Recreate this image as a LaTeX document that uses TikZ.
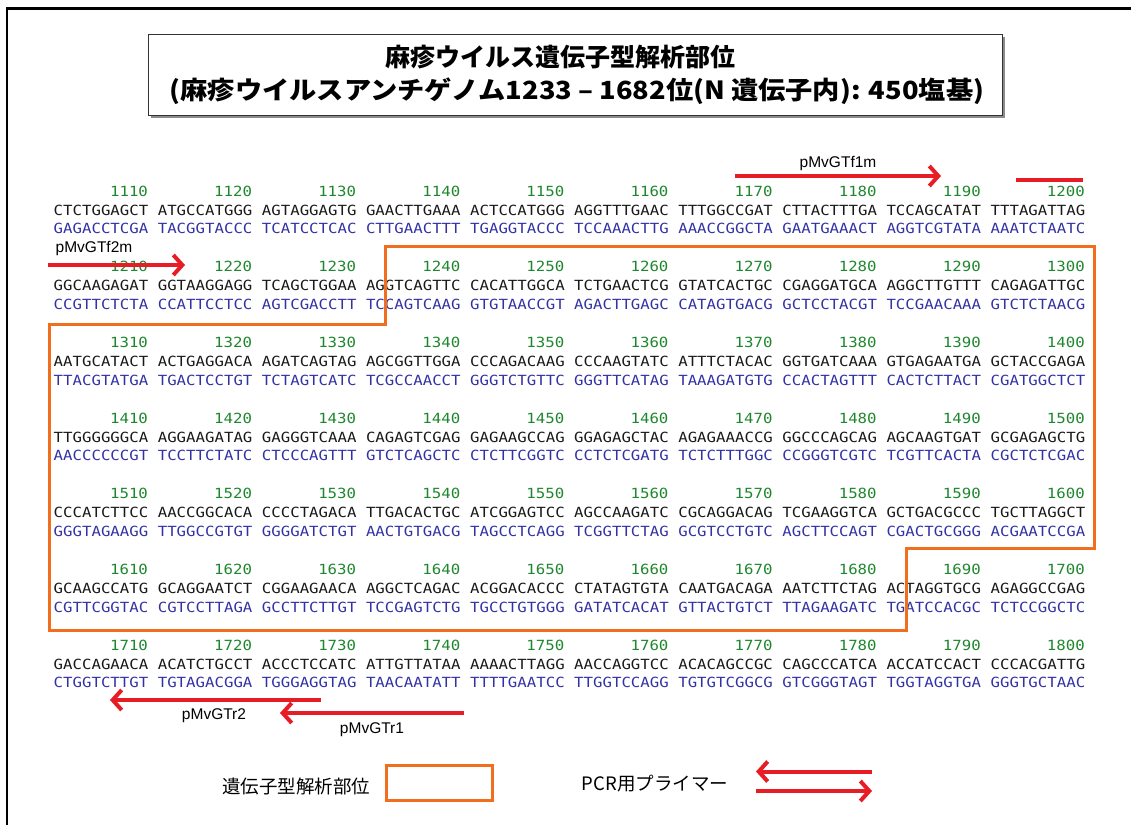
\documentclass[tikz,border=0pt]{standalone}
\usepackage{fontspec}
\usepackage{graphicx}
\usetikzlibrary{arrows.meta}
\newfontfamily\seqfont[FakeStretch=1.123]{DejaVu Sans Mono}
\newfontfamily\jpfont{Noto Sans CJK JP}
\newfontfamily\latfont{Liberation Sans}
\definecolor{seqgreen}{RGB}{30,135,45}
\definecolor{seqblue}{RGB}{50,50,165}
\definecolor{seqblack}{RGB}{25,25,25}
\definecolor{regorange}{RGB}{240,110,30}
\definecolor{primred}{RGB}{232,28,36}
\newcommand\seqrow[3]{%
  \foreach \s [count=\g] in {#2} {
    \pgfmathsetmacro\xx{53.5+(\g-1)*104.1}
    \pgfmathsetmacro\yy{215.1+(#1-1)*75.7}
    \pgfmathtruncatemacro\num{1100+100*(#1-1)+10*\g}
    \node[fwdtxt] (f#1-\g) at (\xx,\yy) {\s};
    \node[numtxt] (n#1-\g) at (\xx+94.64,\yy-19) {\num};
  }
  \foreach \s [count=\g] in {#3} {
    \pgfmathsetmacro\xx{53.5+(\g-1)*104.1}
    \pgfmathsetmacro\yy{215.1+(#1-1)*75.7}
    \node[revtxt] (r#1-\g) at (\xx,\yy+18.5) {\s};
  }
}
\begin{document}
\begin{tikzpicture}[x=1pt,y=-1pt,
  seqtxt/.style={inner sep=0pt, font=\seqfont\fontsize{14}{14}\selectfont},
  numtxt/.style={seqtxt, text=seqgreen, anchor=base east},
  fwdtxt/.style={seqtxt, text=seqblack, anchor=base west},
  revtxt/.style={seqtxt, text=seqblue, anchor=base west},
  primer/.style={draw=primred, line width=4pt, -{Straight Barb[length=9pt,width=20pt]}},
  primerbar/.style={draw=primred, line width=4pt},
  plabel/.style={inner sep=0pt, font=\latfont\fontsize{15.5}{16}\selectfont},
  titletxt/.style={inner sep=0pt, font=\jpfont\bfseries\fontsize{25}{28}\selectfont},
  legtxt/.style={inner sep=0pt, font=\jpfont\fontsize{18.5}{20}\selectfont},
  region/.style={draw=regorange, line width=3pt, line join=miter}]
\useasboundingbox (0,0) rectangle (1131,825);
% outer frame
\draw[line width=2.5pt] (7,825) -- (7,8.5) -- (1131,8.5);
% title box with shadow
\fill[black!45] (151,37) rectangle (1005,118);
\node[draw=black!80, fill=white, line width=0.8pt, minimum width=854pt, minimum height=81pt, inner sep=0pt] (tbox) at (575,74.5) {};
\node[titletxt] (t1) at (560,57) {麻疹ウイルス遺伝子型解析部位};
\node[titletxt] (t2) at (577,91) {\scalebox{1.09}[1]{(麻疹ウイルスアンチゲノム1233 – 1682位(N 遺伝子内): 450塩基)}};
% sequence rows
\seqrow{1}{CTCTGGAGCT,ATGCCATGGG,AGTAGGAGTG,GAACTTGAAA,ACTCCATGGG,AGGTTTGAAC,TTTGGCCGAT,CTTACTTTGA,TCCAGCATAT,TTTAGATTAG}{GAGACCTCGA,TACGGTACCC,TCATCCTCAC,CTTGAACTTT,TGAGGTACCC,TCCAAACTTG,AAACCGGCTA,GAATGAAACT,AGGTCGTATA,AAATCTAATC}
\seqrow{2}{GGCAAGAGAT,GGTAAGGAGG,TCAGCTGGAA,AGGTCAGTTC,CACATTGGCA,TCTGAACTCG,GTATCACTGC,CGAGGATGCA,AGGCTTGTTT,CAGAGATTGC}{CCGTTCTCTA,CCATTCCTCC,AGTCGACCTT,TCCAGTCAAG,GTGTAACCGT,AGACTTGAGC,CATAGTGACG,GCTCCTACGT,TCCGAACAAA,GTCTCTAACG}
\seqrow{3}{AATGCATACT,ACTGAGGACA,AGATCAGTAG,AGCGGTTGGA,CCCAGACAAG,CCCAAGTATC,ATTTCTACAC,GGTGATCAAA,GTGAGAATGA,GCTACCGAGA}{TTACGTATGA,TGACTCCTGT,TCTAGTCATC,TCGCCAACCT,GGGTCTGTTC,GGGTTCATAG,TAAAGATGTG,CCACTAGTTT,CACTCTTACT,CGATGGCTCT}
\seqrow{4}{TTGGGGGGCA,AGGAAGATAG,GAGGGTCAAA,CAGAGTCGAG,GAGAAGCCAG,GGAGAGCTAC,AGAGAAACCG,GGCCCAGCAG,AGCAAGTGAT,GCGAGAGCTG}{AACCCCCCGT,TCCTTCTATC,CTCCCAGTTT,GTCTCAGCTC,CTCTTCGGTC,CCTCTCGATG,TCTCTTTGGC,CCGGGTCGTC,TCGTTCACTA,CGCTCTCGAC}
\seqrow{5}{CCCATCTTCC,AACCGGCACA,CCCCTAGACA,TTGACACTGC,ATCGGAGTCC,AGCCAAGATC,CGCAGGACAG,TCGAAGGTCA,GCTGACGCCC,TGCTTAGGCT}{GGGTAGAAGG,TTGGCCGTGT,GGGGATCTGT,AACTGTGACG,TAGCCTCAGG,TCGGTTCTAG,GCGTCCTGTC,AGCTTCCAGT,CGACTGCGGG,ACGAATCCGA}
\seqrow{6}{GCAAGCCATG,GCAGGAATCT,CGGAAGAACA,AGGCTCAGAC,ACGGACACCC,CTATAGTGTA,CAATGACAGA,AATCTTCTAG,ACTAGGTGCG,AGAGGCCGAG}{CGTTCGGTAC,CGTCCTTAGA,GCCTTCTTGT,TCCGAGTCTG,TGCCTGTGGG,GATATCACAT,GTTACTGTCT,TTAGAAGATC,TGATCCACGC,TCTCCGGCTC}
\seqrow{7}{GACCAGAACA,ACATCTGCCT,ACCCTCCATC,ATTGTTATAA,AAAACTTAGG,AACCAGGTCC,ACACAGCCGC,CAGCCCATCA,ACCATCCACT,CCCACGATTG}{CTGGTCTTGT,TGTAGACGGA,TGGGAGGTAG,TAACAATATT,TTTTGAATCC,TTGGTCCAGG,TGTGTCGGCG,GTCGGGTAGT,TGGTAGGTGA,GGGTGCTAAC}
% genotyping region outline
\draw[region] (385,246.5) -- (1094,246.5) -- (1094,548) -- (906,548) -- (906,630) -- (49,630) -- (49,324) -- (385,324) -- cycle;
% primers
\coordinate (f1s) at (735,176);
\coordinate (f1e) at (941,176);
\draw[primer] (f1s) -- (f1e);
\node[plabel] (lf1) at (838,163) {pMvGTf1m};
\coordinate (f1bs) at (1016,180);
\coordinate (f1be) at (1083,180);
\draw[primerbar] (f1bs) -- (f1be);
\coordinate (f2s) at (48,265);
\coordinate (f2e) at (185,265);
\draw[primer] (f2s) -- (f2e);
\node[plabel] (lf2) at (94,248) {pMvGTf2m};
\coordinate (r2s) at (321,700);
\coordinate (r2e) at (110,700);
\draw[primer] (r2s) -- (r2e);
\node[plabel] (lr2) at (214,716) {pMvGTr2};
\coordinate (r1s) at (464,713);
\coordinate (r1e) at (280,713);
\draw[primer] (r1s) -- (r1e);
\node[plabel] (lr1) at (372,730) {pMvGTr1};
% legend
\node[legtxt] (lg1) at (296,786) {遺伝子型解析部位};
\node[region, minimum width=106pt, minimum height=35pt, inner sep=0pt] (lgbox) at (439.5,782.5) {};
\node[legtxt] (lg2) at (655,784) {PCR用プライマー};
\coordinate (la1s) at (872,771.5);
\coordinate (la1e) at (756,771.5);
\draw[primer] (la1s) -- (la1e);
\coordinate (la2s) at (756,791);
\coordinate (la2e) at (872,791);
\draw[primer] (la2s) -- (la2e);
\end{tikzpicture}
\end{document}
